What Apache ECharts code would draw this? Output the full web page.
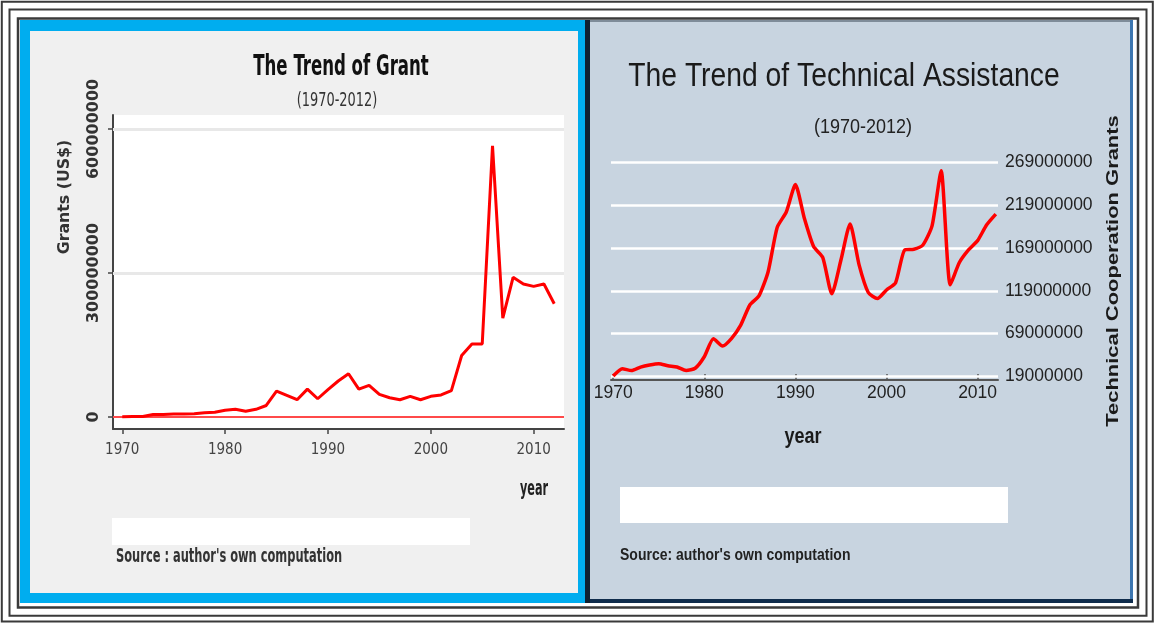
<!DOCTYPE html>
<html><head><meta charset="utf-8">
<script src="https://cdn.jsdelivr.net/npm/echarts@6/dist/echarts.min.js"></script>
<style>html,body{margin:0;padding:0;background:#fff}#c{width:1155px;height:623px}</style>
</head><body><div id="c"></div>
<script>
const years = [1970,1971,1972,1973,1974,1975,1976,1977,1978,1979,1980,1981,1982,1983,1984,1985,1986,1987,1988,1989,1990,1991,1992,1993,1994,1995,1996,1997,1998,1999,2000,2001,2002,2003,2004,2005,2006,2007,2008,2009,2010,2011,2012];
// Grants (US$)
const grants = [0.5e6,1e6,1e6,5e6,5e6,6e6,6e6,7e6,9e6,10e6,14e6,16e6,12e6,16e6,24e6,54e6,45e6,36e6,58e6,38e6,57e6,75e6,90e6,58e6,66e6,47e6,40e6,36e6,43e6,36e6,43e6,46e6,55e6,128e6,152e6,152e6,565e6,206e6,291e6,277e6,272e6,277e6,236e6];
// Technical Cooperation Grants
const techAssist = [19.5e6,28e6,26e6,30e6,32.5e6,34e6,31.6e6,30e6,26e6,28.6e6,42e6,63e6,54.5e6,63.6e6,79e6,102.5e6,113e6,141e6,193e6,211e6,243e6,203e6,170.6e6,158e6,115.5e6,155e6,197e6,149e6,117e6,110e6,120e6,128.5e6,166.7e6,167.5e6,172.5e6,194.7e6,259e6,126e6,152e6,166.7e6,177.6e6,196e6,208.5e6];
const yearTicks = [1970,1980,1990,2000,2010];
const grantTicks = [0,300000000,600000000];
const techTicks = [19000000,69000000,119000000,169000000,219000000,269000000];

const NARROW = "'Liberation Sans Narrow','Arial Narrow','DejaVu Sans Condensed',sans-serif";
const ARIAL = "'Liberation Sans',Arial,sans-serif";

const grantData = years.map((y,i)=>[y,grants[i]]);
const techData = years.map((y,i)=>[y,techAssist[i]]);

function txt(o){
  return {type:'text', z:50, x:o.x, y:o.y, rotation:o.rot||0, scaleX:o.sx||1, scaleY:o.sy||1, silent:true,
    style:{text:o.t, fill:o.c||'#222', font:o.f, textAlign:o.a||'center', textVerticalAlign:'middle'}};
}
function rect(x,y,w,h,fill,z){return {type:'rect', z:z||-10, silent:true, shape:{x,y,width:w,height:h}, style:{fill}};}
function frame(x,y,w,h,lw){return {type:'rect', z:-5, silent:true, shape:{x,y,width:w,height:h}, style:{fill:'none', stroke:'#3a3a3a', lineWidth:lw}};}

const chart = echarts.init(document.getElementById('c'));
chart.setOption({
  animation:false,
  graphic:{elements:[
    rect(0,0,1155,623,'#ffffff',-20),
    frame(1.8,1.8,1151,619.7,2),
    frame(9.5,9.5,1137,606.3,2),
    frame(18,18.5,1120,589,2.5),
    rect(20,20,566,583,'#00adef'),
    rect(30,31,548,562,'#f0f0f0'),
    rect(585,20,5,583,'#0f2030'),
    rect(590,20,543,583,'#c8d4e0'),
    rect(590,20,543,2,'#7f8c99'),
    rect(1130,20,3,583,'#3d76b0'),
    rect(590,599,543,4,'#0f2c4c'),
    rect(112,518,358,27,'#ffffff',-1),
    rect(620,487,388,36,'#ffffff',-1),
    txt({x:341,y:68,t:'The Trend of Grant',f:'bold 23.5px '+NARROW,c:'#111',sx:0.785,sy:1.18}),
    txt({x:337,y:101,t:'(1970-2012)',f:'18px '+NARROW,c:'#333',sx:0.8,sy:1.1}),
    txt({x:65,y:197,t:'Grants (US$)',f:'bold 15px DejaVu Sans',c:'#333',rot:Math.PI/2,sx:1.05}),
    txt({x:534,y:490,t:'year',f:'bold 16px '+NARROW,c:'#222',sx:0.78,sy:1.3}),
    txt({x:116,y:557,t:"Source : author's own computation",f:'bold 15.5px '+NARROW,c:'#333',a:'left',sx:0.82,sy:1.2}),
    txt({x:844,y:77,t:'The Trend of Technical Assistance',f:'28.3px '+ARIAL,c:'#1a1a1a',sy:1.15}),
    txt({x:863,y:128,t:'(1970-2012)',f:'18px '+ARIAL,c:'#222',sy:1.1}),
    txt({x:1113,y:271,t:'Technical Cooperation Grants',f:'bold 17px '+ARIAL,c:'#1a1a1a',rot:Math.PI/2,sx:1.29}),
    txt({x:803,y:437,t:'year',f:'bold 18px '+ARIAL,c:'#1a1a1a',sy:1.2}),
    txt({x:620,y:556,t:"Source: author's own computation",f:'bold 14px '+ARIAL,c:'#222',a:'left',sy:1.15})
  ]},
  grid:[
    {left:113, top:115, width:451, height:314, show:true, backgroundColor:'#ffffff', borderWidth:0},
    {left:611, top:162.3, width:387, height:217.7, show:false}
  ],
  xAxis:[
    {type:'value', gridIndex:0, min:1969.1, max:2012.95,
      axisLine:{show:true, onZero:false, lineStyle:{color:'#444', width:2}},
      axisTick:{show:true, customValues:yearTicks, length:5, lineStyle:{color:'#444', width:1.5}},
      axisLabel:{customValues:yearTicks, margin:14, color:'#444', fontFamily:NARROW, fontSize:15, formatter:v=>String(v)},
      splitLine:{show:false}},
    {type:'value', gridIndex:1, min:1969.76, max:2012.24,
      axisLine:{show:true, onZero:false, lineStyle:{color:'#555', width:2}},
      axisTick:{show:true, inside:true, customValues:yearTicks, length:6, lineStyle:{color:'#555', width:1.5}},
      axisLabel:{customValues:yearTicks, margin:4, color:'#222', fontFamily:ARIAL, fontSize:17.5, formatter:v=>String(v)},
      splitLine:{show:false}}
  ],
  yAxis:[
    {type:'value', gridIndex:0, min:-25e6, max:629e6,
      axisLine:{show:true, onZero:false, lineStyle:{color:'#444', width:2}},
      axisTick:{show:true, customValues:grantTicks, length:5, lineStyle:{color:'#444', width:1.5}},
      axisLabel:{customValues:grantTicks, rotate:90, margin:11, color:'#333', fontFamily:'DejaVu Sans', fontWeight:'bold', fontSize:16, formatter:v=>String(v)},
      splitLine:{show:false}},
    {type:'value', gridIndex:1, position:'right', min:14.9e6, max:269e6,
      axisLine:{show:false}, axisTick:{show:false},
      axisLabel:{customValues:techTicks, margin:7, color:'#222', fontFamily:ARIAL, fontSize:17.5, formatter:v=>String(v)},
      splitLine:{show:false}}
  ],
  series:[
    {type:'line', name:'gridA', xAxisIndex:0, yAxisIndex:0, data:grantData, symbol:'none', z:2, silent:true,
      lineStyle:{opacity:0},
      markLine:{silent:true, symbol:['none','none'], label:{show:false}, animation:false,
        data:[
          {yAxis:grantTicks[1], lineStyle:{color:'#e8e8e8', width:3, type:'solid'}},
          {yAxis:grantTicks[2], lineStyle:{color:'#e8e8e8', width:3, type:'solid'}},
          {yAxis:grantTicks[0], lineStyle:{color:'#ff4a4a', width:2, type:'solid'}}
        ]}},
    {type:'line', name:'Grants', xAxisIndex:0, yAxisIndex:0, data:grantData, symbol:'none', z:5,
      lineStyle:{color:'#ff0000', width:3}},
    {type:'line', name:'gridB', xAxisIndex:1, yAxisIndex:1, data:techData, symbol:'none', z:2, silent:true,
      lineStyle:{opacity:0},
      markLine:{silent:true, symbol:['none','none'], label:{show:false}, animation:false,
        data:techTicks.map(v=>({yAxis:v, lineStyle:{color:'#ffffff', width:2.5, type:'solid'}}))}},
    {type:'line', name:'Technical Assistance', xAxisIndex:1, yAxisIndex:1, data:techData, symbol:'none', z:5, smooth:0.2,
      lineStyle:{color:'#ff0000', width:3.5}}
  ]
});
</script></body></html>
